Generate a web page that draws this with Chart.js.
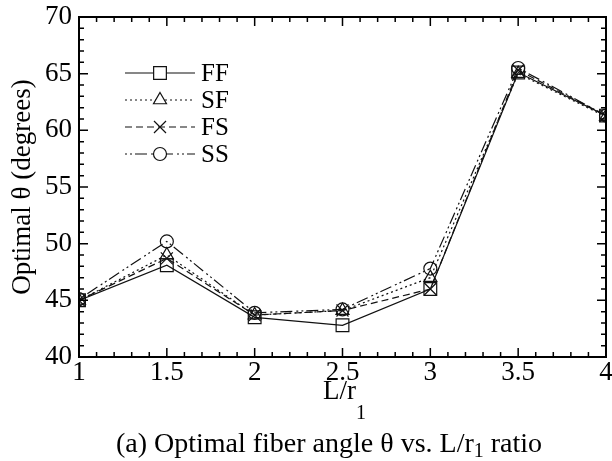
<!DOCTYPE html>
<html>
<head>
<meta charset="utf-8">
<script src="https://cdn.jsdelivr.net/npm/chart.js@4"></script>
<style>
  html, body { margin: 0; padding: 0; background: #fff; }
  #wrap { width: 612px; height: 461px; }
</style>
</head>
<body>
<div id="wrap"><canvas id="angleChart"></canvas></div>
<script>
// L/r1 ratios and optimal fiber angle for each support case
const ratios = [1, 1.5, 2, 2.5, 3, 3.5, 4];
const ffAngles = [45.0, 48.1, 43.5, 42.8, 46.0, 65.1, 61.3];
const sfAngles = [45.0, 49.0, 43.7, 44.1, 47.0, 65.0, 61.2];
const fsAngles = [45.0, 48.7, 43.7, 44.1, 46.0, 65.3, 61.3];
const ssAngles = [45.1, 50.2, 43.9, 44.2, 47.8, 65.5, 61.3];
const seriesNames = ['FF', 'SF', 'FS', 'SS'];
const xTicks = [1, 1.5, 2, 2.5, 3, 3.5, 4];
const yTicks = [40, 45, 50, 55, 60, 65, 70];

const serif = '"Liberation Serif", "Times New Roman", serif';

const makeSet = (label, values, dash, marker, size) => ({
  label,
  data: ratios.map((r, i) => ({ x: r, y: values[i] })),
  borderColor: '#111',
  borderWidth: 1.2,
  borderDash: dash,
  pointStyle: marker,
  pointRadius: size,
  pointBorderWidth: 1.2,
  pointBorderColor: '#111',
  pointBackgroundColor: 'rgba(255,255,255,0)',
  tension: 0,
});

// frame, inward ticks, legend and axis captions
const decorations = {
  id: 'decorations',
  afterDraw(chart) {
    const { ctx, chartArea: a, scales } = chart;
    const xs = scales.x, ys = scales.y;
    ctx.save();
    ctx.strokeStyle = '#000';
    ctx.lineWidth = 2;
    ctx.strokeRect(a.left, a.top, a.right - a.left, a.bottom - a.top);

    ctx.lineWidth = 1.5;
    ctx.beginPath();
    for (let v = 10; v <= 40; v++) {
      const px = xs.getPixelForValue(v / 10);
      const len = v % 5 === 0 ? 9 : 5;
      ctx.moveTo(px, a.bottom); ctx.lineTo(px, a.bottom - len);
      ctx.moveTo(px, a.top); ctx.lineTo(px, a.top + len);
    }
    for (let v = 40; v <= 70; v++) {
      const py = ys.getPixelForValue(v);
      const len = v % 5 === 0 ? 9 : 5;
      ctx.moveTo(a.left, py); ctx.lineTo(a.left + len, py);
      ctx.moveTo(a.right, py); ctx.lineTo(a.right - len, py);
    }
    ctx.stroke();

    // legend
    chart.data.datasets.forEach((ds, i) => {
      const y = 73 + i * 27;
      ctx.strokeStyle = '#111';
      ctx.lineWidth = 1.2;
      ctx.setLineDash(ds.borderDash);
      ctx.beginPath();
      ctx.moveTo(125, y); ctx.lineTo(195, y);
      ctx.stroke();
      ctx.setLineDash([]);
      ctx.fillStyle = '#fff';
      Chart.helpers.drawPoint(ctx, {
        pointStyle: ds.pointStyle, radius: ds.pointRadius, borderWidth: 1.2, rotation: 0
      }, 160, y);
      ctx.fillStyle = '#000';
      ctx.font = '25px ' + serif;
      ctx.textAlign = 'left';
      ctx.textBaseline = 'middle';
      ctx.fillText(ds.label, 201, y + 1);
    });

    // x axis title L/r1
    const cx = (a.left + a.right) / 2;
    ctx.fillStyle = '#000';
    ctx.textBaseline = 'alphabetic';
    ctx.font = '27px ' + serif;
    const main = 'L/r';
    const w1 = ctx.measureText(main).width;
    ctx.font = '20px ' + serif;
    const w2 = ctx.measureText('1').width;
    const x0 = cx + 2 - (w1 + w2) / 2;
    ctx.font = '27px ' + serif;
    ctx.textAlign = 'left';
    ctx.fillText(main, x0, 399);
    ctx.font = '20px ' + serif;
    ctx.fillText('1', x0 + w1, 419);

    // caption
    const parts = [
      ['(a) Optimal fiber angle \u03b8 vs. L/r', '28px', 452],
      ['1', '20px', 457],
      [' ratio', '28px', 452],
    ];
    let total = 0;
    parts.forEach(p => { ctx.font = p[1] + ' ' + serif; total += ctx.measureText(p[0]).width; });
    let px = 329 - total / 2;
    parts.forEach(p => {
      ctx.font = p[1] + ' ' + serif;
      ctx.fillText(p[0], px, p[2]);
      px += ctx.measureText(p[0]).width;
    });
    ctx.restore();
  }
};

new Chart(document.getElementById('angleChart'), {
  type: 'line',
  data: {
    datasets: [
      makeSet(seriesNames[0], ffAngles, [], 'rect', 9),
      makeSet(seriesNames[1], sfAngles, [2, 3], 'triangle', 7.5),
      makeSet(seriesNames[2], fsAngles, [7, 4], 'crossRot', 8.5),
      makeSet(seriesNames[3], ssAngles, [2, 3, 2, 3, 12, 4], 'circle', 6.5),
    ],
  },
  options: {
    responsive: true,
    maintainAspectRatio: false,
    animation: false,
    layout: { autoPadding: false, padding: { left: 7, right: 6, top: 17, bottom: 0 } },
    plugins: { legend: { display: false }, tooltip: { enabled: false } },
    scales: {
      x: {
        type: 'linear',
        min: 1,
        max: 4,
        afterBuildTicks: s => { s.ticks = xTicks.map(v => ({ value: v })); },
        afterFit: s => { s.height = 104; s.paddingLeft = 0; s.paddingRight = 0; },
        grid: { display: false, drawTicks: false },
        border: { display: false },
        ticks: {
          color: '#000',
          padding: 0,
          maxRotation: 0,
          autoSkip: false,
          callback: v => String(v),
          font: { family: serif, size: 27 },
        },
      },
      y: {
        min: 40,
        max: 70,
        afterBuildTicks: s => { s.ticks = yTicks.map(v => ({ value: v })); },
        afterFit: s => { s.width = 72; s.paddingTop = 0; s.paddingBottom = 0; },
        grid: { display: false, drawTicks: false },
        border: { display: false },
        title: {
          display: true,
          text: 'Optimal \u03b8 (degrees)',
          color: '#000',
          font: { family: serif, size: 27 },
          padding: { top: 0, bottom: 0 },
        },
        ticks: {
          color: '#000',
          padding: 7,
          font: { family: serif, size: 27 },
        },
      },
    },
  },
  plugins: [decorations],
});
</script>
</body>
</html>
